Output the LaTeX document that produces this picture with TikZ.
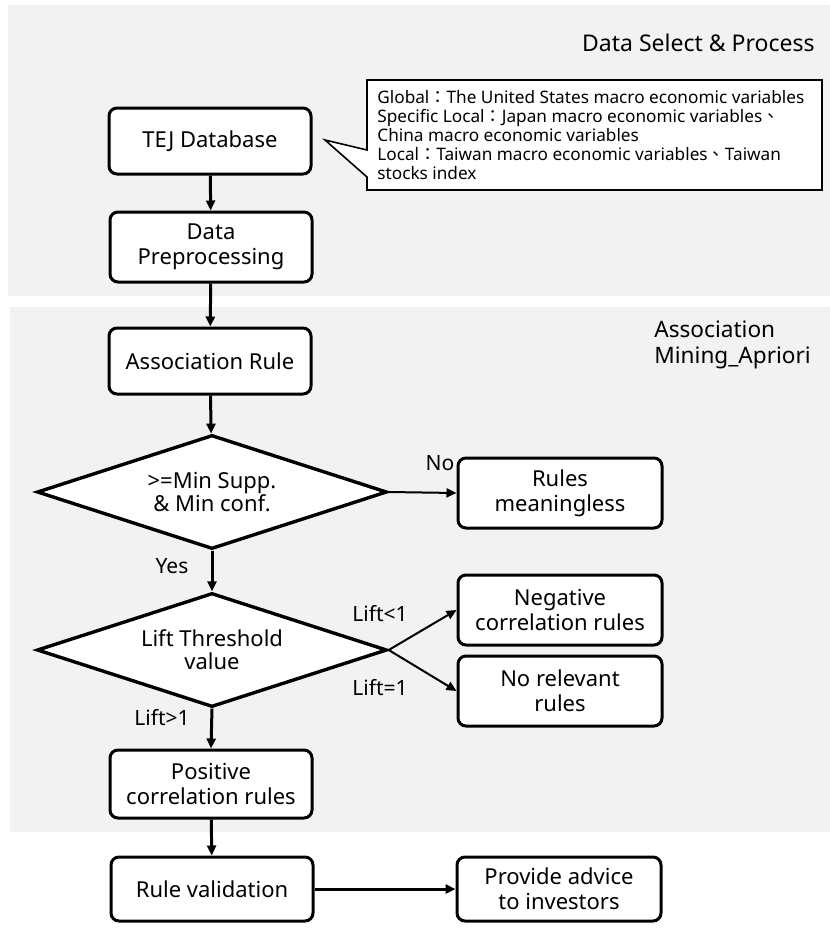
\documentclass[tikz,border=0pt]{standalone}
\usepackage{fontspec}
\setmainfont{Noto Sans}
\newfontfamily\cjk{Noto Sans CJK TC}
\usetikzlibrary{shapes.geometric,arrows.meta}
\definecolor{panelgray}{HTML}{F2F2F2}

\tikzset{
  stepbox/.style={draw, rounded corners=4pt, line width=1.5pt, fill=white,
    align=center, inner sep=0pt, minimum width=101pt, minimum height=33pt,
    font=\fontsize{11}{12.5}\selectfont},
  decision/.style={diamond, draw, line width=1.7pt, fill=white, align=center,
    inner sep=0pt, aspect=3.07, minimum width=175pt, minimum height=57pt,
    font=\fontsize{11}{11.5}\selectfont},
  flow/.style={->, line width=1.5pt},
  branch/.style={->, line width=1pt},
  tag/.style={font=\fontsize{10.5}{12}\selectfont, inner sep=0pt}
}

\begin{document}
\begin{tikzpicture}[x=0.5pt,y=-0.5pt,>={Triangle[length=5pt,width=4.5pt]}]
  \useasboundingbox (0,0) rectangle (830,928);
  % panels
  \fill[panelgray] (8,5) rectangle (830,296);
  \fill[panelgray] (10,307) rectangle (830,832);
  \node[tag, anchor=east, font=\fontsize{11.5}{13}\selectfont] (selectlbl) at (815,43) {Data Select \& Process};
  \node[tag, anchor=north west, align=left, font=\fontsize{11.3}{13}\selectfont] (mininglbl) at (654,320) {Association\\Mining\_Apriori};

  % callout
  \draw[line width=0.8pt, fill=white] (367,80) -- (822,80) -- (822,190) -- (367,190)
    -- (367,177) -- (325,140) -- (367,150) -- cycle;
  \node[anchor=north west, align=left, inner sep=0pt, font=\fontsize{8.6}{9.5}\selectfont] (note) at (377,90)
    {Global{\cjk ：}The United States macro economic variables\\
     Specific Local{\cjk ：}Japan macro economic variables{\cjk 、}\\
     China macro economic variables\\
     Local{\cjk ：}Taiwan macro economic variables{\cjk 、}Taiwan\\
     stocks index};

  % steps
  \node[stepbox] (tej) at (210,141) {TEJ Database};
  \node[stepbox, minimum height=35pt] (prep) at (211,247) {Data\\Preprocessing};
  \node[stepbox] (assoc) at (210,361) {Association Rule};
  \node[decision] (supp) at (212,492) {>=Min Supp.\\\& Min conf.};
  \node[stepbox, minimum width=102pt, minimum height=35pt] (meaningless) at (560,493) {Rules\\meaningless};
  \node[decision] (lift) at (212,650) {Lift Threshold\\value};
  \node[stepbox, minimum width=102pt, minimum height=35pt] (negative) at (560,610) {Negative\\correlation rules};
  \node[stepbox, minimum width=102pt, minimum height=35pt] (norel) at (560,691) {No relevant\\rules};
  \node[stepbox, minimum height=34pt] (positive) at (211,784) {Positive\\correlation rules};
  \node[stepbox, minimum height=32pt] (valid) at (212,889) {Rule validation};
  \node[stepbox, minimum width=102pt, minimum height=32pt] (advice) at (559,889) {Provide advice\\to investors};

  % connectors
  \draw[flow] (tej) -- (prep);
  \draw[flow] (prep) -- (assoc);
  \draw[flow] (assoc) -- (supp);
  \draw[branch] (supp.east) -- (meaningless.west);
  \draw[flow] (supp.south) -- (lift.north);
  \draw[branch] (lift.east) -- (negative.west);
  \draw[branch] (lift.east) -- (norel.west);
  \draw[flow] (lift.south) -- (positive.north);
  \draw[flow] (positive) -- (valid);
  \draw[flow] (valid) -- (advice);

  % labels
  \node[tag] (nolbl) at (440,463) {No};
  \node[tag] (yeslbl) at (172,566) {Yes};
  \node[tag] (ltlbl) at (380,614) {Lift<1};
  \node[tag] (eqlbl) at (380,688) {Lift=1};
  \node[tag] (gtlbl) at (162,718) {Lift>1};
\end{tikzpicture}
\end{document}
